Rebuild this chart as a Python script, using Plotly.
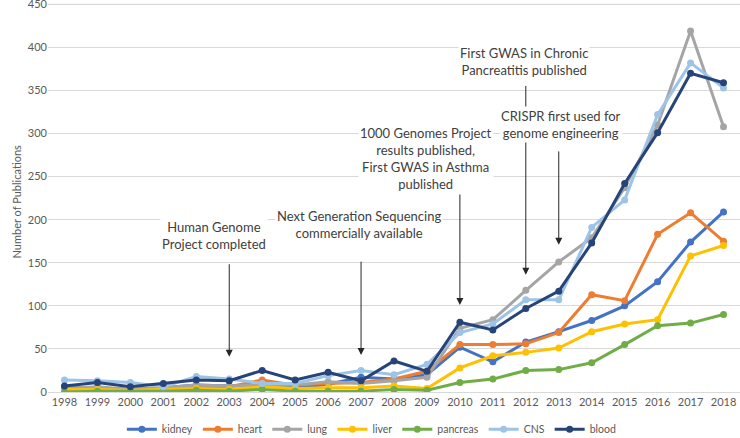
import plotly.graph_objects as go

years = list(range(1998, 2019))
kidney = [5, 5, 3, 5, 8, 7, 8, 5, 9, 17, 15, 20, 52, 35, 58, 70, 83, 100, 128, 174, 209]
heart = [3, 4, 3, 4, 6, 6, 14, 8, 10, 11, 15, 24, 55, 55, 56, 69, 113, 106, 183, 208, 175]
lung = [4, 6, 3, 5, 8, 7, 8, 8, 12, 10, 13, 17, 74, 84, 118, 151, 179, 237, 310, 419, 308]
liver = [3, 3, 2, 3, 4, 3, 6, 4, 5, 5, 7, 4, 28, 42, 46, 51, 70, 79, 84, 158, 170]
pancreas = [0, 1, 1, 1, 2, 1, 3, 1, 1, 1, 3, 2, 11, 15, 25, 26, 34, 55, 77, 80, 90]
cns = [14, 13, 11, 6, 18, 15, 10, 10, 19, 25, 20, 32, 69, 79, 107, 107, 191, 223, 322, 382, 353]
blood = [7, 11, 6, 10, 14, 13, 25, 14, 23, 13, 36, 24, 81, 72, 97, 117, 173, 242, 301, 370, 359]
y_ticks = [0, 50, 100, 150, 200, 250, 300, 350, 400, 450]

series = [
    ("kidney", kidney, "#4472C4"),
    ("heart", heart, "#ED7D31"),
    ("lung", lung, "#A5A5A5"),
    ("liver", liver, "#FFC000"),
    ("pancreas", pancreas, "#70AD47"),
    ("CNS", cns, "#9DC3E6"),
    ("blood", blood, "#264478"),
]

# events: (label, year, arrow head value, arrow tail value, text x, text y)
events = [
    ("Human Genome<br>Project completed", 2003, 41, 150, 2002.53, 182),
    ("Next Generation Sequencing<br>commercially available", 2007, 43, 153, 2006.94, 195),
    ("1000 Genomes Project<br>results published,<br>First GWAS in Asthma<br>published", 2010, 101, 231, 2008.97, 271),
    ("First GWAS in Chronic<br>Pancreatitis published", 2012, 136, 357, 2011.95, 384),
    ("CRISPR first used for<br>genome engineering", 2013, 171, 281, 2013.08, 310),
]

font_family = "Lato, Open Sans, sans-serif"

fig = go.Figure()
for name, vals, color in series:
    fig.add_trace(go.Scatter(
        x=years, y=vals, name=name, mode="lines+markers",
        line=dict(color=color, width=3),
        marker=dict(color=color, size=7),
    ))

annotations = []
for label, yr, head, tail, tx, ty in events:
    annotations.append(dict(
        x=yr, y=head, ax=yr, ay=tail, xref="x", yref="y", axref="x", ayref="y",
        showarrow=True, arrowhead=2, arrowsize=1.4, arrowwidth=1, arrowcolor="#262626",
        text="",
    ))
for label, yr, head, tail, tx, ty in events:
    annotations.append(dict(
        x=tx, y=ty, xref="x", yref="y", text=label, showarrow=False,
        font=dict(family=font_family, size=13, color="#404040"),
        align="center", bgcolor="white", borderpad=1,
    ))
annotations.append(dict(
    x=-0.045, y=221, xref="paper", yref="y", text="Number of Publications",
    textangle=-90, showarrow=False, xanchor="center", yanchor="middle",
    font=dict(family=font_family, size=11, color="#595959"),
))

# top gridline (plotly drops gridlines right at the plot edge)
fig.add_shape(type="line", xref="paper", yref="y", x0=0, x1=1,
              y0=y_ticks[-1], y1=y_ticks[-1],
              line=dict(color="#d9d9d9", width=1), layer="below")

fig.update_layout(
    width=740, height=438,
    margin=dict(l=48, r=0, t=0, b=46, autoexpand=False),
    paper_bgcolor="white", plot_bgcolor="white",
    font=dict(family=font_family, size=11, color="#595959"),
    xaxis=dict(
        range=[1997.5, 2018.5], tickmode="array", tickvals=years,
        ticktext=[str(y) for y in years], showgrid=False, automargin=False,
        showline=True, linecolor="#d9d9d9", linewidth=1, ticks="",
        tickfont=dict(size=11, color="#595959"), zeroline=False,
    ),
    yaxis=dict(
        range=[0, 455], tickvals=y_ticks,
        showgrid=True, gridcolor="#d9d9d9", automargin=False,
        zeroline=False, showline=False, ticks="", ticklabeloverflow="allow",
        tickfont=dict(size=11, color="#595959"),
    ),
    legend=dict(
        orientation="h", x=0.468, xanchor="center", y=-0.058, yanchor="top",
        font=dict(size=10.5, color="#595959"), itemwidth=30,
    ),
    annotations=annotations,
)

fig.write_html(
    "out.html",
    config={"displayModeBar": False},
    post_script="document.body.style.margin='0';document.body.style.overflow='hidden';",
)
